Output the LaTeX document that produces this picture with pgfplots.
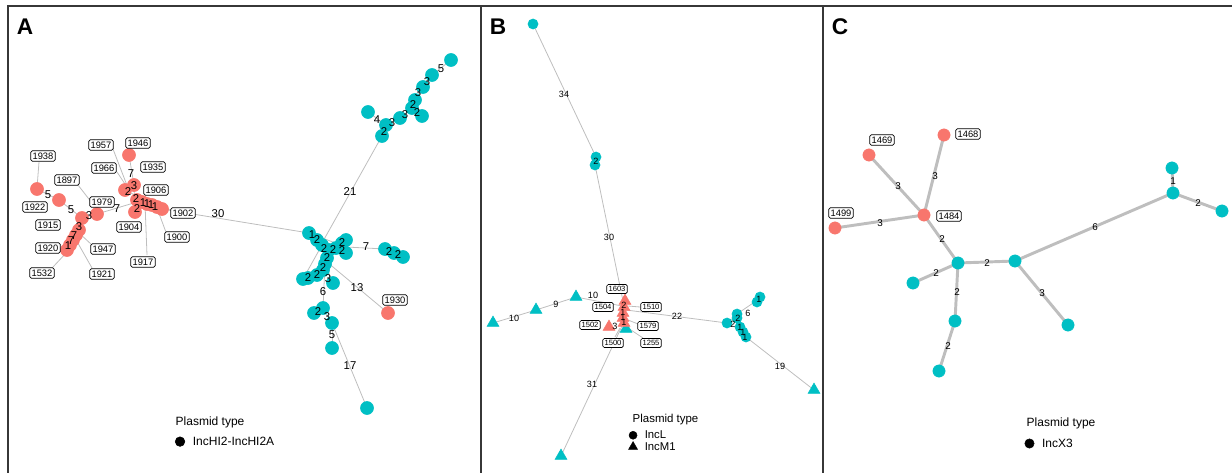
\documentclass[border=0pt]{standalone}
\usepackage{fontspec}
\setmainfont{Liberation Sans}
\usepackage{pgfplots}
\pgfplotsset{compat=1.18}
\definecolor{cred}{HTML}{F8766D}
\definecolor{cteal}{HTML}{00BFC4}
\definecolor{cedge}{RGB}{190,190,190}
\definecolor{cframe}{RGB}{55,55,55}
\pgfplotsset{
  panel/.style={scale only axis, y dir=reverse, ymin=6, ymax=480, xtick=\empty, ytick=\empty,
    axis line style={line width=1pt, color=cframe}, clip=false, anchor=north west,
    height=355.5pt},
  lbl/.style={draw=none, mark=none, nodes near coords, point meta=explicit symbolic,
    every node near coord/.append style={anchor=center, inner sep=0pt, text=black, font=#1}},
  box/.style={draw=none, mark=none, nodes near coords, point meta=explicit symbolic,
    every node near coord/.append style={anchor=center, draw=black, fill=white, rounded corners=1.2pt,
      inner sep=1.4pt, line width=0.5pt, text=black, font=#1}},
  leg/.style={legend style={at={(#1)}, anchor=west, draw=none, fill=none, inner sep=0pt,
    row sep=0pt, legend cell align=left, font=\fontsize{9}{10}\selectfont,
    nodes={inner sep=1pt, text height=7pt, text depth=1.5pt},
    /tikz/every odd column/.append style={column sep=5pt}}},
}
\newcommand{\E}[4]{\addplot[color=cedge, line width=0.6pt] coordinates {(#1,#2) (#3,#4)};}
\newcommand{\EC}[4]{\addplot[color=cedge, line width=2.2pt] coordinates {(#1,#2) (#3,#4)};}
\newcommand{\Fs}[1]{\fontsize{#1}{#1}\selectfont}
\begin{document}
\begin{tikzpicture}
%% ================= Panel A =================
\begin{axis}[panel, at={(6pt,-4.5pt)}, width=354.75pt, xmin=8, xmax=481, leg={0.353,0.081}]
\addlegendimage{only marks, mark=*, mark size=3.6pt, color=black}
\addlegendentry{IncHI2-IncHI2A}
% edges
\E{37}{189}{59}{200} \E{59}{200}{82}{218} \E{82}{218}{97}{214} \E{82}{218}{79}{230}
\E{79}{230}{67}{250} \E{97}{214}{137}{202} \E{129}{155}{134}{185} \E{125}{190}{162}{209}
\E{134}{185}{135}{212}
\E{162}{209}{309}{233}
\E{451}{60}{432}{75} \E{432}{75}{423}{87} \E{423}{87}{415}{100} \E{415}{100}{412}{108}
\E{412}{108}{422}{116} \E{412}{108}{400}{118} \E{400}{118}{386}{125} \E{386}{125}{382}{136}
\E{386}{125}{368}{112}
\E{382}{136}{322}{243}
\E{309}{233}{346}{247} \E{322}{245}{303}{279} \E{325}{264}{333}{283}
\E{346}{247}{385}{249} \E{385}{249}{403}{257}
\E{325}{264}{323}{308} \E{323}{308}{314}{313} \E{323}{308}{332}{323} \E{332}{323}{332}{348}
\E{332}{323}{367}{408}
\E{327}{262}{388}{313}
% leader lines
\E{39}{162}{37}{188} \E{113}{149}{128}{188} \E{117}{172}{127}{187} \E{78}{185}{92}{203}
\E{147}{255}{145}{203} \E{167}{235}{157}{208} \E{170}{210}{153}{203} \E{92}{245}{78}{232}
\E{92}{268}{75}{238} \E{53}{267}{67}{252}
% nodes
\addplot[only marks, mark=*, mark size=4.9pt, color=cred] table {
37 189
59 200
82 218
97 214
67 250
70 245
73 240
76 235
79 230
129 155
125 190
134 185
137 200
135 212
142 202
147 204
152 205
157 207
162 209
388 313
};
\addplot[only marks, mark=*, mark size=4.9pt, color=cteal] table {
451 60
432 75
423 87
415 100
412 108
422 116
400 118
386 125
382 136
368 112
309 233
317 240
322 245
329 250
336 248
342 243
346 240
346 253
327 258
325 264
323 270
317 275
308 278
303 279
333 283
385 249
394 253
403 257
314 313
323 308
332 323
332 348
367 408
};
% edge labels
\addplot[lbl=\Fs{8.5}] table[meta=t] {
x y t
48 195 5
71 210 5
89 216 3
117 209 7
79 227 3
74 236 7
71 241 7
68 246 1
131 174 7
134 186 3
128 192 2
136 199 2
137 209 2
143 203 1
147 204 1
151 205 1
155 207 1
218 214 30
441 69 5
427 82 3
418 93 3
413 105 2
417 113 2
405 115 3
392 123 3
384 132 2
377 120 4
350 192 21
312 235 1
317 240 2
324 249 2
333 250 2
342 243 2
342 251 2
327 258 2
323 268 2
317 275 2
308 278 2
328 279 3
366 247 7
389 252 2
398 255 2
323 292 6
357 288 13
318 312 2
327 317 3
332 335 5
350 366 17
};
% labelled isolates
\addplot[box=\Fs{7}] table[meta=t] {
x y t
43 156 1938
35 207 1922
48 225 1915
48 248 1920
42 273 1532
67 180 1897
101 145 1957
104 168 1966
138 143 1946
153 167 1935
102 202 1979
156 190 1906
183 213 1902
129 227 1904
177 237 1900
143 262 1917
103 249 1947
102 274 1921
395 300 1930
};
\node[font=\bfseries\Fs{17}] at (axis cs:25,27) {A};
\node[anchor=west, font=\Fs{9}] at (axis cs:171,422) {Plasmid type};
\end{axis}
%% ================= Panel B =================
\begin{axis}[panel, at={(360.75pt,-4.5pt)}, width=256.5pt, xmin=481, xmax=823, leg={0.431,0.0823},
  legend style={font=\fontsize{8.5}{8.5}\selectfont, nodes={inner sep=0.5pt, text height=6.6pt, text depth=1pt}}]
\addlegendimage{only marks, mark=*, mark size=3pt, color=black}
\addlegendentry{IncL}
\addlegendimage{only marks, mark=triangle*, mark size=3.8pt, color=black}
\addlegendentry{IncM1}
\E{533}{24}{596}{157} \E{595}{165}{623}{301} \E{576}{297}{622}{306} \E{536}{310}{576}{297}
\E{493}{323}{536}{310} \E{626}{310}{727}{323} \E{727}{323}{737}{316} \E{737}{314}{759}{299}
\E{746}{337}{814}{390} \E{622}{326}{561}{456}
\E{640}{307}{628}{306} \E{643}{338}{628}{328} \E{615}{337}{620}{328} \E{638}{324}{628}{320}
\addplot[only marks, mark=*, mark size=3.8pt, color=cteal] table {
533 24
596 157
595 165
757 302
760 297
737 314
737 318
727 323
740 327
743 332
746 337
};
\addplot[only marks, mark=triangle*, mark size=5.2pt, color=cteal] table {
626 329
576 297
536 310
493 323
561 456
814 390
};
\addplot[only marks, mark=triangle*, mark size=5.2pt, color=cred] table {
625 301
624 307
623 313
623 318
624 323
609 327
};
\addplot[lbl=\Fs{6.8}] table[meta=t] {
x y t
564 94 34
596 161 2
609 237 30
593 295 10
556 304 9
514 318 10
624 305 2
623 312 1
623 317 1
624 322 1
615 326 3
677 316 22
759 299 1
748 313 6
738 318 2
733 324 2
740 327 1
743 332 1
745 337 1
780 366 19
592 384 31
};
\addplot[box=\Fs{5.7}] table[meta=t] {
x y t
617 289 1603
603 307 1504
651 307 1510
590 325 1502
648 326 1579
613 343 1500
651 343 1255
};
\node[font=\bfseries\Fs{17}] at (axis cs:498,27) {B};
\node[anchor=west, font=\Fs{8.6}] at (axis cs:628,420) {Plasmid type};
\end{axis}
%% ================= Panel C =================
\begin{axis}[panel, at={(617.25pt,-4.5pt)}, width=309.75pt, xmin=823, xmax=1236, leg={0.488,0.077}]
\addlegendimage{only marks, mark=*, mark size=3.5pt, color=black}
\addlegendentry{IncX3}
\EC{924}{215}{944}{135} \EC{924}{215}{869}{155} \EC{924}{215}{835}{228} \EC{924}{215}{958}{263}
\EC{958}{263}{913}{283} \EC{958}{263}{1015}{261} \EC{958}{263}{955}{321} \EC{955}{321}{939}{371}
\EC{1015}{261}{1068}{325} \EC{1015}{261}{1173}{193} \EC{1173}{193}{1172}{168} \EC{1173}{193}{1222}{211}
\addplot[only marks, mark=*, mark size=4.6pt, color=cred] table {
944 135
869 155
835 228
924 215
};
\addplot[only marks, mark=*, mark size=4.6pt, color=cteal] table {
958 263
913 283
1015 261
955 321
939 371
1068 325
1173 193
1172 168
1222 211
};
\addplot[lbl=\Fs{7.4}] table[meta=t] {
x y t
935 176 3
898 186 3
880 223 3
942 239 2
936 273 2
987 263 2
957 292 2
948 346 2
1042 293 3
1095 227 6
1173 181 1
1198 203 2
};
\addplot[box=\Fs{7}] table[meta=t] {
x y t
968 134 1468
882 140 1469
841 213 1499
949 216 1484
};
\node[font=\bfseries\Fs{17}] at (axis cs:840,27) {C};
\node[anchor=west, font=\Fs{9}] at (axis cs:1022,423) {Plasmid type};
\end{axis}
\pgfresetboundingbox
\path[use as bounding box] (0,0) rectangle (924pt,-354.75pt);
\end{tikzpicture}
\end{document}
